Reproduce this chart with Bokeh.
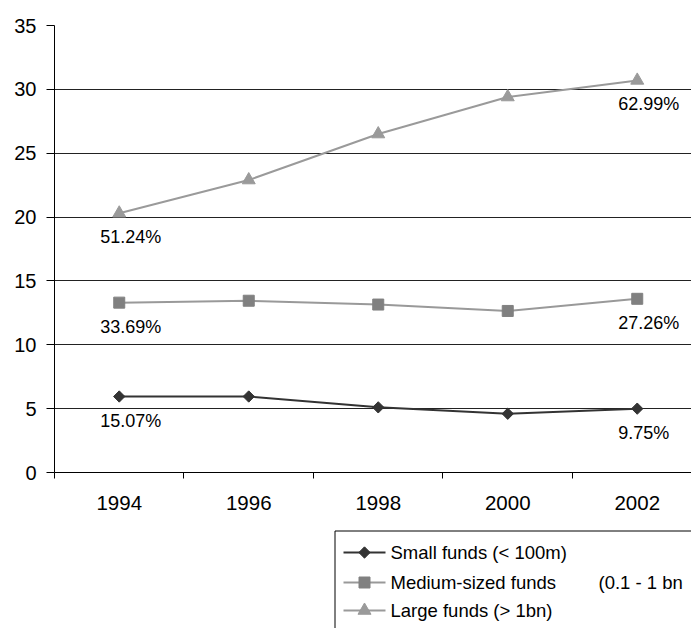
from bokeh.plotting import figure
from bokeh.models import Range1d, FixedTicker, ColumnDataSource
from bokeh.layouts import column
from bokeh.core.properties import value
from bokeh.embed import file_html
from bokeh.resources import INLINE

# ---- data ----
years = ["1994", "1996", "1998", "2000", "2002"]
small = [5.95, 5.95, 5.1, 4.6, 5.0]
medium = [13.3, 13.45, 13.15, 12.65, 13.6]
large = [20.3, 22.9, 26.5, 29.4, 30.7]
small_share = ["15.07%", "9.75%"]
medium_share = ["33.69%", "27.26%"]
large_share = ["51.24%", "62.99%"]
y_ticks = [0, 5, 10, 15, 20, 25, 30, 35]
legend_labels = ["Small funds (< 100m)", "Medium-sized funds", "Large funds (> 1bn)"]
legend_extra = "(0.1 - 1 bn"

FONT = "Liberation Sans"
xs = list(range(len(years)))

p = figure(width=691, height=521, x_range=Range1d(-0.5, 4.419), y_range=Range1d(0, 35),
           output_backend="svg", toolbar_location=None,
           min_border_left=54, min_border_right=0, min_border_top=25, min_border_bottom=49)
p.outline_line_color = None
p.background_fill_color = "white"
p.border_fill_color = "white"
p.xgrid.visible = False
p.ygrid.ticker = FixedTicker(ticks=y_ticks)
p.ygrid.grid_line_color = "#222222"
p.ygrid.grid_line_width = 1

# x axis
p.xaxis.ticker = FixedTicker(ticks=xs, minor_ticks=[i - 0.5 for i in xs])
p.xaxis.major_label_overrides = {i: y for i, y in zip(xs, years)}
p.xaxis.major_tick_out = 0
p.xaxis.major_tick_in = 0
p.xaxis.minor_tick_out = 6
p.xaxis.minor_tick_in = 0
p.xaxis.minor_tick_line_color = "black"
p.xaxis.axis_line_color = "black"
p.xaxis.major_label_standoff = 17
p.xaxis.major_label_text_font = FONT
p.xaxis.major_label_text_font_size = "20.5px"
p.xaxis.major_label_text_color = "black"

# y axis
p.yaxis.ticker = FixedTicker(ticks=y_ticks)
p.yaxis.major_tick_out = 8
p.yaxis.major_tick_in = 0
p.yaxis.minor_tick_out = 0
p.yaxis.minor_tick_in = 0
p.yaxis.axis_line_color = "black"
p.yaxis.major_tick_line_color = "black"
p.yaxis.major_label_standoff = 10
p.yaxis.major_label_text_font = FONT
p.yaxis.major_label_text_font_size = "20px"
p.yaxis.major_label_text_color = "black"

styles = [
    (small, small_share, "#333333", "#333333", "square", 8, 0.785398),
    (medium, medium_share, "#999999", "#808080", "square", 11, 0.0),
    (large, large_share, "#9a9a9a", "#9a9a9a", "triangle", 13, 0.0),
]

for vals, shares, lc, mc, mk, sz, ang in styles:
    p.line(xs, vals, line_color=lc, line_width=2)
    p.scatter(xs, vals, marker=mk, size=sz, angle=ang, fill_color=mc, line_color=mc)
    src = ColumnDataSource(dict(x=[xs[0], xs[-1]], y=[vals[0], vals[-1]], t=shares))
    p.text(x="x", y="y", text="t", source=src, x_offset=-19, y_offset=24,
           text_align="left", text_baseline="middle", text_font=value(FONT),
           text_font_size="18px", text_color="black")

# ---- legend panel (data coordinates equal page pixels) ----
lg = figure(width=691, height=107, x_range=Range1d(54, 691), y_range=Range1d(107, 0),
            x_axis_type=None, y_axis_type=None,
            output_backend="svg", toolbar_location=None,
            min_border_left=54, min_border_right=0, min_border_top=0, min_border_bottom=0)
lg.grid.visible = False
lg.outline_line_color = None
lg.quad(left=[334.5], right=[760], top=[9.5], bottom=[160], fill_color=None,
        line_color="black", line_width=1)

rows_y = [31, 61, 89]
for (vals, shares, lc, mc, mk, sz, ang), ry, lab in zip(styles, rows_y, legend_labels):
    lg.line([343, 385], [ry, ry], line_color=lc, line_width=2)
    lg.scatter([364], [ry], marker=mk, size=sz, angle=ang, fill_color=mc, line_color=mc)
    lg.text([390], [ry], text=[lab], text_align="left", text_baseline="middle",
            text_font=value(FONT), text_font_size="18.5px", text_color="black")
lg.text([598], [rows_y[1]], text=[legend_extra], text_align="left", text_baseline="middle",
        text_font=value(FONT), text_font_size="18.5px", text_color="black")

layout = column(p, lg, spacing=0)
open("out.html", "w").write(file_html(layout, INLINE))
